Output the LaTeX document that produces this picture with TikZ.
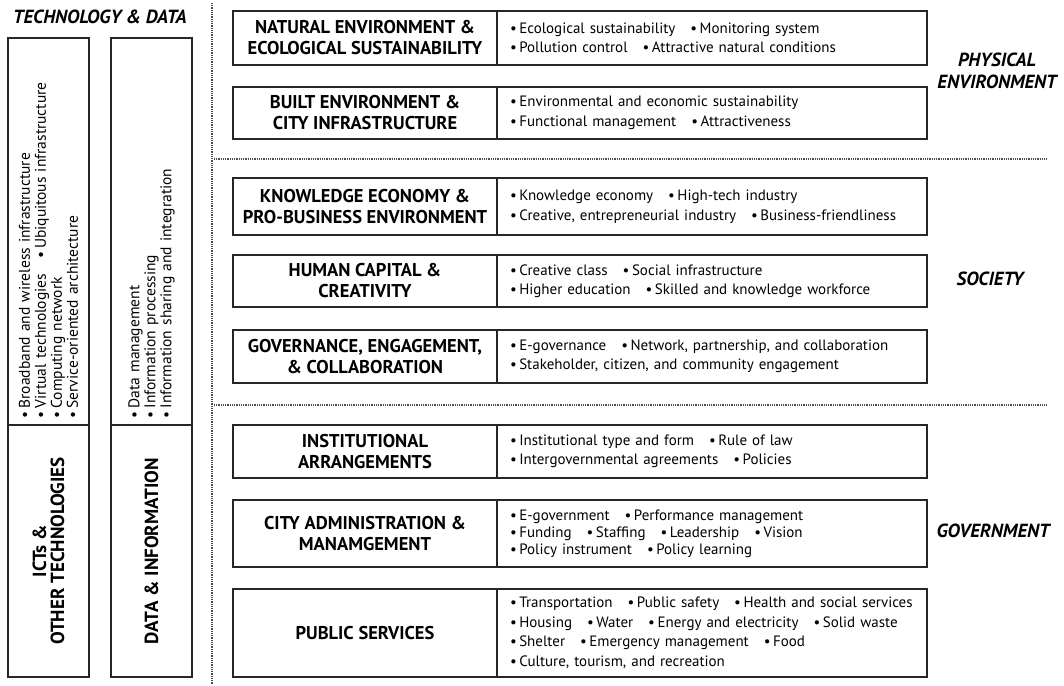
\documentclass[tikz,border=0pt]{standalone}
\usepackage{fontspec}
\setmainfont{PT Sans}
\usetikzlibrary{positioning}
\newcommand{\bul}{\textbullet\,}
\newcommand{\gap}{\hspace{1em}}

\begin{document}
\begin{tikzpicture}[x=1pt, y=-1pt,
    frame/.style={draw=black!85, line width=1.7pt, outer sep=0pt},
    head/.style={frame, anchor=north west, minimum width=264pt, align=center,
      inner sep=0pt, font=\bfseries\fontsize{18.5}{21}\selectfont},
    items/.style={frame, minimum width=430pt, text width=404pt, align=left,
      inner sep=0pt, font=\fontsize{15}{19.5}\selectfont},
    col/.style={frame, rotate=90, minimum height=81pt, inner sep=0pt},
    side/.style={font=\bfseries\itshape\fontsize{19}{22}\selectfont, align=center},
    sepline/.style={black!70, line width=1.2pt, dash pattern=on 0.9pt off 0.9pt}]
  \useasboundingbox (0,0) rectangle (1064,685);

  \node[side] (techdata) at (100,17) {TECHNOLOGY \& DATA};
  \node[col, minimum width=387pt, text width=373pt, align=left,
    font=\fontsize{15.5}{16}\selectfont] (ictlist) at (48.5,231.5)
    {\bul Broadband and wireless infrastructure\\
     \bul Virtual technologies\gap\bul Ubiquitous infrastructure\\
     \bul Computing network\\
     \bul Service-oriented architecture};
  \node[col, minimum width=252pt, align=center,
    font=\bfseries\fontsize{19}{18}\selectfont] (ict) at (48.5,551)
    {ICTs \&\\OTHER TECHNOLOGIES};
  \node[col, minimum width=387pt, text width=373pt, align=left,
    font=\fontsize{15.5}{16}\selectfont] (datalist) at (151.5,231.5)
    {\bul Data management\\
     \bul Information processing\\
     \bul Information sharing and integration};
  \node[col, minimum width=252pt, align=center,
    font=\bfseries\fontsize{19}{18}\selectfont] (data) at (151.5,551)
    {DATA \& INFORMATION};

  \draw[sepline] (212,3) -- (212,685);
  \draw[sepline] (214,159) -- (1047,159);
  \draw[sepline] (214,405) -- (1047,405);

  \node[head, minimum height=54pt] (nat) at (233,11)
    {NATURAL ENVIRONMENT \&\\ECOLOGICAL SUSTAINABILITY};
  \node[items, minimum height=54pt, right=0pt of nat] (natlist)
    {\bul Ecological sustainability\gap\bul Monitoring system\\
     \bul Pollution control\gap\bul Attractive natural conditions};
  \node[head, minimum height=52pt] (built) at (233,87)
    {BUILT ENVIRONMENT \&\\CITY INFRASTRUCTURE};
  \node[items, minimum height=52pt, right=0pt of built] (builtlist)
    {\bul Environmental and economic sustainability\\
     \bul Functional management\gap\bul Attractiveness};

  \node[head, minimum height=57pt] (know) at (233,178)
    {KNOWLEDGE ECONOMY \&\\PRO-BUSINESS ENVIRONMENT};
  \node[items, minimum height=57pt, right=0pt of know] (knowlist)
    {\bul Knowledge economy\gap\bul High-tech industry\\
     \bul Creative, entrepreneurial industry\gap\bul Business-friendliness};
  \node[head, minimum height=52pt] (human) at (233,255)
    {HUMAN CAPITAL \&\\CREATIVITY};
  \node[items, minimum height=52pt, right=0pt of human] (humanlist)
    {\bul Creative class\gap\bul Social infrastructure\\
     \bul Higher education\gap\bul Skilled and knowledge workforce};
  \node[head, minimum height=53pt] (gover) at (233,330)
    {GOVERNANCE, ENGAGEMENT,\\\& COLLABORATION};
  \node[items, minimum height=53pt, right=0pt of gover] (goverlist)
    {\bul E-governance\gap\bul Network, partnership, and collaboration\\
     \bul Stakeholder, citizen, and community engagement};

  \node[head, minimum height=53pt] (inst) at (233,425)
    {INSTITUTIONAL\\ARRANGEMENTS};
  \node[items, minimum height=53pt, right=0pt of inst] (instlist)
    {\bul Institutional type and form\gap\bul Rule of law\\
     \bul Intergovernmental agreements\gap\bul Policies};
  \node[head, minimum height=67pt] (admin) at (233,500)
    {CITY ADMINISTRATION \&\\MANAMGEMENT};
  \node[items, minimum height=67pt, right=0pt of admin,
    font=\fontsize{15}{17}\selectfont] (adminlist)
    {\bul E-government\gap\bul Performance management\\
     \bul Funding\gap\bul Staffing\gap\bul Leadership\gap\bul Vision\\
     \bul Policy instrument\gap\bul Policy learning};
  \node[head, minimum height=88pt] (pub) at (233,589)
    {PUBLIC SERVICES};
  \node[items, minimum height=88pt, right=0pt of pub] (publist)
    {\bul Transportation\gap\bul Public safety\gap\bul Health and social services\\
     \bul Housing\gap\bul Water\gap\bul Energy and electricity\gap\bul Solid waste\\
     \bul Shelter\gap\bul Emergency management\gap\bul Food\\
     \bul Culture, tourism, and recreation};

  \node[side] (phys) at (997,71) {PHYSICAL\\ENVIRONMENT};
  \node[side] (soc) at (990,279) {SOCIETY};
  \node[side] (gov) at (993,531) {GOVERNMENT};
\end{tikzpicture}
\end{document}
